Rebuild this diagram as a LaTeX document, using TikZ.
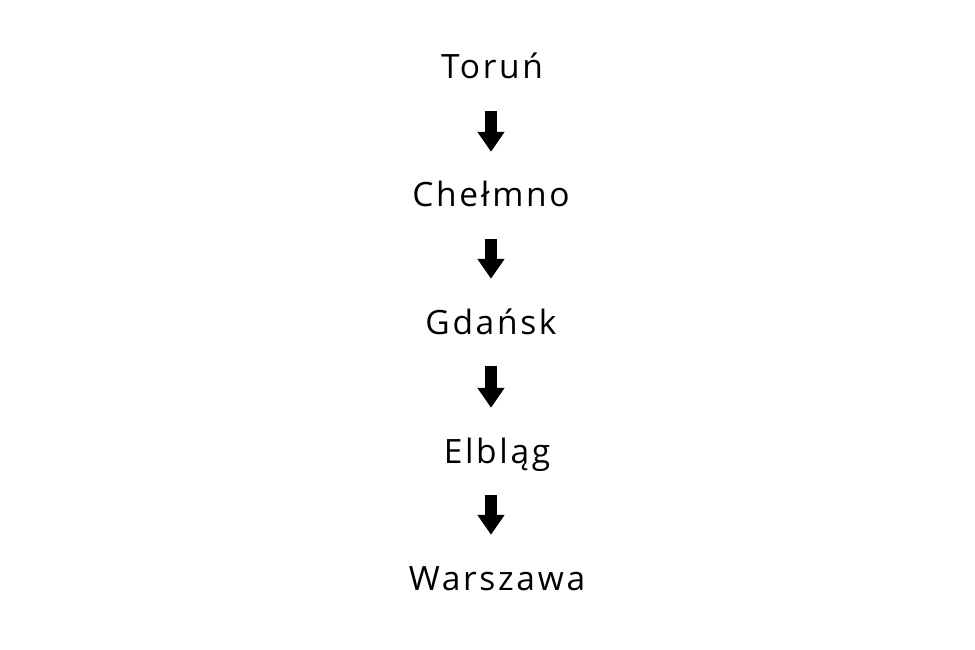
\documentclass[tikz,border=0pt]{standalone}
\usepackage{fontspec}
\setmainfont[LetterSpace=8]{Open Sans}
\usetikzlibrary{arrows.meta}
\begin{document}
\begin{tikzpicture}[x=1pt,y=-1pt,
  city/.style={font=\fontsize{33.5}{38}\selectfont, inner sep=0pt, text height=24pt, text depth=8pt, anchor=base},
  flow/.style={line width=12pt, -{Triangle[width=26pt,length=20pt]}, shorten <=24pt, shorten >=31pt}]
\useasboundingbox (0,0) rectangle (975,650);
\coordinate (ax) at (491,0);
\node[city] (t) at (492,79) {Toruń};
\node[city] (c) at (491,207) {Chełmno};
\node[city] (g) at (491,334) {Gdańsk};
\node[city] (e) at (497,463) {Elbląg};
\node[city] (w) at (497,590) {Warszawa};
\draw[flow] (t.south -| ax) -- (c.north -| ax);
\draw[flow] (c.south -| ax) -- (g.north -| ax);
\draw[flow] (g.south -| ax) -- (e.north -| ax);
\draw[flow] (e.south -| ax) -- (w.north -| ax);
\end{tikzpicture}
\end{document}
